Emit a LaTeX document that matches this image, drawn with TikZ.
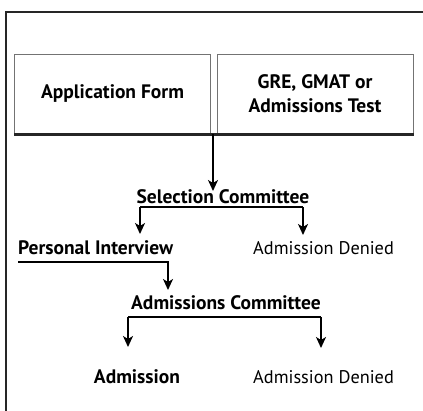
\documentclass[tikz,border=0pt]{standalone}
\usepackage{fontspec}
\setmainfont{PT Sans}
\usetikzlibrary{arrows.meta}
\tikzset{
  bold/.style={font=\fontsize{19.5}{22}\selectfont\bfseries, inner sep=0pt},
  plain/.style={font=\fontsize{18.3}{22}\selectfont, inner sep=0pt},
  box/.style={draw=black!55, line width=1pt, minimum width=196pt, minimum height=80pt, inner sep=0pt, align=center, font=\fontsize{19.5}{24}\selectfont\bfseries},
  flow/.style={line width=1.6pt, -{Stealth[length=11pt,width=10pt,inset=3pt]}},
  bar/.style={line width=1.6pt}
}
\begin{document}
\begin{tikzpicture}[x=1pt,y=-1pt]
\useasboundingbox (0,0) rectangle (423,410);
% outer frame
\draw[line width=2.2pt, black!85] (6,412) -- (6,12) -- (425,12);
% top boxes
\node[box] (form) at (112.5,94) {Application Form};
\node[box] (test) at (315,94) {GRE, GMAT or\\Admissions Test};
\draw[line width=2.4pt, black!85] (form.south west) -- (test.south east);
\coordinate (split) at (213,134);
\node[bold] (sel) at (223,197) {Selection Committee};
\draw[flow] (split) -- (213,191);
% first branch
\coordinate (selL) at (140,207);
\coordinate (selR) at (303,207);
\coordinate (pintIn) at (140,234);
\coordinate (den1In) at (303,235);
\draw[bar] (selL) -- (selR);
\draw[flow] (selL) -- (pintIn);
\draw[flow] (selR) -- (den1In);
\node[bold, anchor=west] (pint) at (18,248) {Personal Interview};
\node[plain, anchor=west] (den1) at (253,248) {Admission Denied};
\coordinate (pintOut) at (18,262);
\coordinate (acomIn) at (168,290);
\draw[flow] (pintOut) -| (acomIn);
\node[bold] (acom) at (226,303) {Admissions Committee};
% second branch
\coordinate (acomL) at (128,317);
\coordinate (acomR) at (321,317);
\coordinate (admIn) at (128,347);
\coordinate (den2In) at (321,348);
\draw[bar] (acomL) -- (acomR);
\draw[flow] (acomL) -- (admIn);
\draw[flow] (acomR) -- (den2In);
\node[bold] (adm) at (137,377) {Admission};
\node[plain, anchor=west] (den2) at (253,377) {Admission Denied};
\end{tikzpicture}
\end{document}
